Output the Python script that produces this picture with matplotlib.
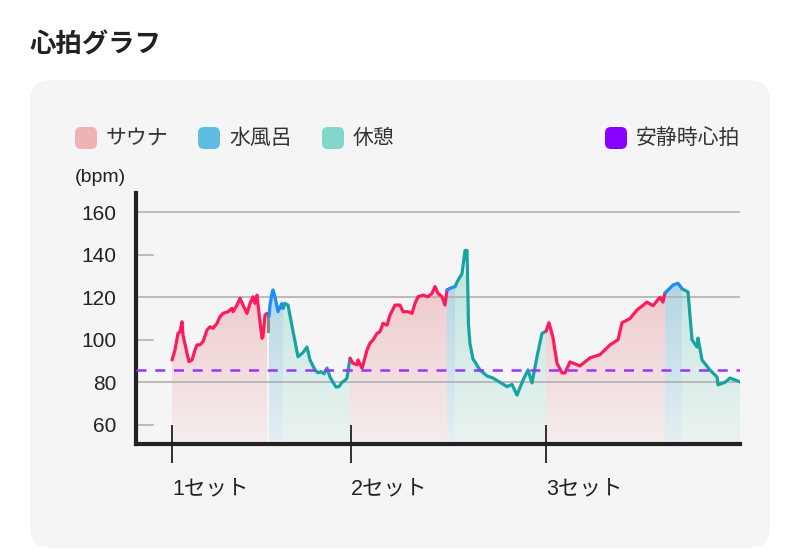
import numpy as np
import matplotlib
matplotlib.use("Agg")
import matplotlib.pyplot as plt
from matplotlib.patches import FancyBboxPatch, PathPatch
from matplotlib.path import Path
from matplotlib.colors import to_rgb

plt.rcParams['font.family'] = ['Noto Sans CJK JP', 'DejaVu Sans']
NUM_FONT = ['Liberation Sans', 'Noto Sans CJK JP']

# 経過（サンプル番号）と心拍数
sauna1_t = [0, 1, 3, 6, 8, 10, 11, 15, 17, 20, 23, 25, 28, 31, 35, 38, 41, 45, 48, 51, 56, 60, 61, 65,
            68, 71, 75, 78, 81, 83, 85, 87, 90, 91, 93, 95]
sauna1_v = [90.5, 92, 95.2, 103, 103.8, 108.5, 102.3, 93.7, 89.7, 90.5, 95.2, 97.6, 97.6, 99.1, 104.6, 106.1,
            105.4, 107.7, 110.8, 112.4, 113.2, 114.8, 113.2, 116.3, 119.5, 116.3, 112.4, 117.1, 120.2, 117.1,
            121, 112.4, 100.7, 101.5, 111.6, 112.4]
gap1_t = [96, 96]
gap1_v = [104, 111]
water1_t = [97, 98, 100, 101, 103, 106, 110, 111]
water1_v = [111, 116.3, 121.8, 123.4, 120.2, 113.2, 117.1, 114.8]
rest1_t = [111, 113, 116, 121, 126, 131, 135, 138, 143, 146, 149, 152, 155, 158, 161, 164, 167, 170, 173, 175, 178]
rest1_v = [114.8, 117.1, 116.3, 104, 92, 94, 96.6, 90.5, 85.8, 84.5, 85, 84, 86.7, 82.5, 80, 77.8, 78, 80, 81,
           82, 91.3]

sauna2_t = [178, 181, 185, 186, 190, 191, 195, 198, 201, 205, 208, 211, 215, 218, 223, 228, 231, 236, 240,
            243, 246, 251, 256, 260, 263, 266, 270, 273, 275]
sauna2_v = [91.3, 89, 88.2, 90.5, 86.6, 88.2, 95.2, 98.4, 99.9, 103, 103.8, 107.7, 106.9, 111.6, 116.3, 116.3,
            113.2, 113.2, 112.4, 117.1, 120.2, 121, 120.2, 121.8, 125, 121.8, 120.2, 116.3, 123.4]
water2_t = [275, 278, 283]
water2_v = [123.4, 124.2, 125]
rest2_t = [283, 286, 290, 293, 295, 296.5, 298, 301, 308, 315, 321, 328, 335, 340, 345, 351, 356, 360, 365, 370, 374]
rest2_v = [125, 128, 131, 142, 142, 107, 98, 91, 85.8, 83, 82, 80, 78, 79, 74, 81, 85.8, 79.7, 92, 103, 104]

sauna3_t = [374, 377, 381, 385, 390, 393, 398, 408, 418, 428, 438, 446, 450, 458, 465, 475, 481, 488, 491, 493]
sauna3_v = [104, 108, 101, 89, 84.4, 84.4, 89.6, 87.7, 91.5, 93, 97.6, 100, 108, 110, 114, 117.7, 116, 120, 117.7, 122]
water3_t = [493, 501, 506, 510]
water3_v = [122, 125.7, 126.6, 124]
rest3_t = [510, 516, 520, 525, 526, 530, 538, 545, 546, 553, 558, 568]
rest3_v = [124, 122.5, 100, 96.6, 100.8, 90.5, 85.8, 82.5, 78.8, 80, 82, 80.2]

resting_hr = 86
set_ticks = [0, 179, 374]
set_labels = ['1セット', '2セット', '3セット']
y_ticks = [60, 80, 100, 120, 140, 160]
grid_values = [80, 120, 160]
short_marks = [60, 100, 140]

legend_items = ['サウナ', '水風呂', '休憩']
legend_colors = ['#f0b3b3', '#5fbde0', '#80d8cc']

LINE = {'sauna': '#ff1a5c', 'water': '#1a8cff', 'rest': '#16a3a3'}
FILL = {'sauna': ('#efc8ca', '#f5eded'),
        'water': ('#b0d5e3', '#e6eff3'),
        'rest': ('#c3e6df', '#ebf3f1')}

W, H = 800, 551
YMIN, YMAX = 51, 169


def grad_fill(ax, t, v, kind):
    t = np.asarray(t, float)
    v = np.asarray(v, float)
    verts = np.vstack([[t[0], YMIN], np.column_stack([t, v]), [t[-1], YMIN], [t[0], YMIN]])
    patch = PathPatch(Path(verts), facecolor='none', edgecolor='none')
    ax.add_patch(patch)
    top, bot = (np.array(to_rgb(c)) for c in FILL[kind])
    frac = np.linspace(0, 1, 100)[:, None]
    img = (bot * (1 - frac) + top * frac)[:, None, :]
    im = ax.imshow(img, extent=[t[0], t[-1], YMIN, 130], origin='lower', aspect='auto',
                   zorder=1, interpolation='bilinear')
    im.set_clip_path(patch)


def rounded_square(fig, x0, y_top, color):
    sq = FancyBboxPatch((x0 / 100, (H - y_top - 22) / 100), 22 / 100, 22 / 100,
                        boxstyle="round,pad=0,rounding_size=0.06",
                        transform=fig.dpi_scale_trans, facecolor=color, edgecolor='none')
    fig.add_artist(sq)


fig = plt.figure(figsize=(W / 100, H / 100), dpi=100)
fig.patch.set_facecolor('white')

# パネル背景
panel = FancyBboxPatch((30 / 100, (H - 548) / 100), 740 / 100, 468 / 100,
                       boxstyle="round,pad=0,rounding_size=0.2",
                       transform=fig.dpi_scale_trans, facecolor='#f5f5f5', edgecolor='none', zorder=0)
fig.add_artist(panel)

fig.text(30 / W, 1 - 45 / H, '心拍グラフ', fontsize=19, fontweight='bold', color='#222',
         ha='left', va='center')

# 凡例
leg_x = [75, 198, 322]
for x0, lab, col in zip(leg_x, legend_items, legend_colors):
    rounded_square(fig, x0, 127, col)
    fig.text((x0 + 31) / W, 1 - 138 / H, lab, fontsize=15, color='#333', ha='left', va='center')
rounded_square(fig, 605, 127, '#8800ff')
fig.text(636 / W, 1 - 138 / H, '安静時心拍', fontsize=15, color='#333', ha='left', va='center')

fig.text(75 / W, 1 - 178 / H, '(bpm)', fontsize=14, color='#222', ha='left', va='center',
         family=NUM_FONT)

ax = fig.add_axes([136 / W, 1 - 444 / H, (740 - 136) / W, (444 - 193) / H])
ax.set_facecolor('none')

for gv in grid_values:
    ax.axhline(gv, color='#b0b0b0', lw=1.2, zorder=2)
for sv in short_marks:
    ax.plot([0, 0.028], [sv, sv], transform=ax.get_yaxis_transform(), color='#b0b0b0', lw=1.2,
            zorder=2, clip_on=False)

segments = [
    (sauna1_t, sauna1_v, 'sauna'), (water1_t, water1_v, 'water'), (rest1_t, rest1_v, 'rest'),
    (sauna2_t, sauna2_v, 'sauna'), (water2_t, water2_v, 'water'), (rest2_t, rest2_v, 'rest'),
    (sauna3_t, sauna3_v, 'sauna'), (water3_t, water3_v, 'water'), (rest3_t, rest3_v, 'rest'),
]
for t, v, kind in segments:
    grad_fill(ax, t, v, kind)

ax.plot(gap1_t, gap1_v, color='#888888', lw=2.2, zorder=3)
for t, v, kind in segments:
    ax.plot(t, v, color=LINE[kind], lw=2.3, zorder=4, solid_joinstyle='round', solid_capstyle='round')

ax.axhline(resting_hr, color='#9933ff', lw=1.8, ls=(0, (4, 3.5)), zorder=5)

ax.set_xlim(-36, 568)
ax.set_ylim(YMIN, YMAX)

for s in ['top', 'right']:
    ax.spines[s].set_visible(False)
for s in ['left', 'bottom']:
    ax.spines[s].set_linewidth(3)
    ax.spines[s].set_color('#222')

ax.set_yticks(y_ticks)
ax.tick_params(axis='y', length=0, pad=14, labelsize=15, labelcolor='#222')
ax.set_xticks(set_ticks, set_labels)
ax.tick_params(axis='x', direction='inout', length=27, width=1.3, color='#222', pad=11,
               labelsize=15.5, labelcolor='#222')
for lbl in ax.get_xticklabels() + ax.get_yticklabels():
    lbl.set_family(NUM_FONT)
for lbl in ax.get_xticklabels():
    lbl.set_ha('left')

fig.savefig('out.png', dpi=100)
